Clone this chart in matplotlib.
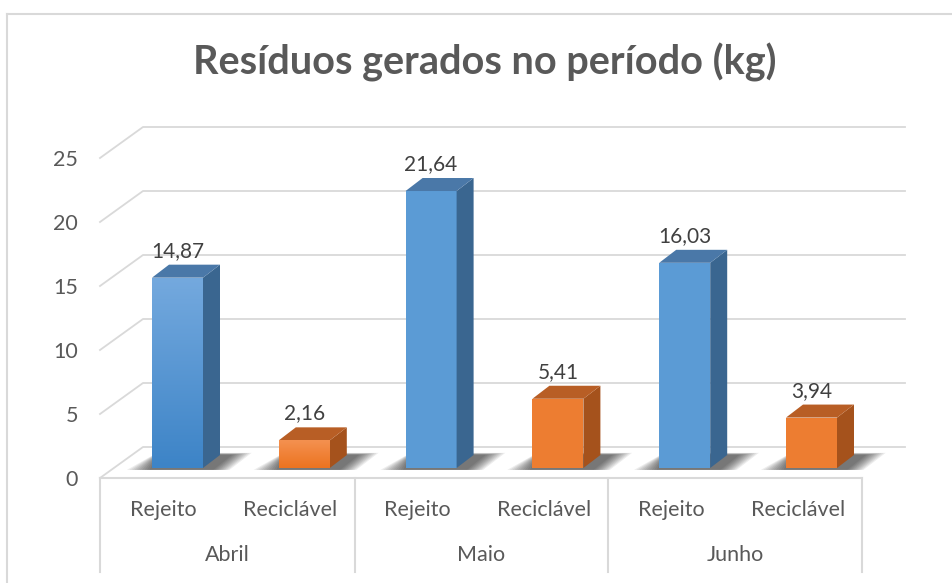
import matplotlib

matplotlib.use("Agg")
import matplotlib.pyplot as plt
import numpy as np
from matplotlib.patches import Polygon

months = ["Abril", "Maio", "Junho"]
kinds = ["Rejeito", "Reciclável"]
values = [14.87, 2.16, 21.64, 5.41, 16.03, 3.94]
y_ticks = [0, 5, 10, 15, 20, 25]
title = "Resíduos gerados no período (kg)"

FRONT = {"Rejeito": "#5b9bd5", "Reciclável": "#ed7d31"}
SIDE = {"Rejeito": "#3a6690", "Reciclável": "#a5521c"}
TOP = {"Rejeito": "#4a78a8", "Reciclável": "#b85e25"}
GRAD = {"Rejeito": ("#74a9de", "#3d84c7"), "Reciclável": ("#f49150", "#ec7320")}
GRID = "#d9d9d9"
TEXT = "#595959"

# page layout, in pixels of the 952x583 picture
W, H = 952, 583
X0, STEP = 177.5, 126.8     # first bar front centre, distance between bars
BASE, UNIT = 468.0, 12.8    # bar base line, pixels per kg

plt.rcParams["font.family"] = ["Lato", "DejaVu Sans"]

fig = plt.figure(figsize=(W / 100, H / 100), dpi=100)
ax = fig.add_axes([0, 0, 1, 1])
ax.set_xlim(-X0 / STEP, (W - X0) / STEP)
ax.set_ylim((BASE - H) / UNIT, BASE / UNIT)
ax.axis("off")


def px(x):
    return (x - X0) / STEP


def py(y):
    return (BASE - y) / UNIT


# outer frame (top and left edges only are inside the picture)
ax.plot([px(7), px(W)], [py(14), py(14)], color=GRID, lw=1.5)
ax.plot([px(7), px(7)], [py(14), py(H)], color=GRID, lw=1.5)

ax.text(px(485), py(62), title, ha="center", va="center", fontsize=28.5,
        fontweight="bold", color=TEXT)

# walls: side-wall diagonals and back-wall gridlines
for g in y_ticks:
    ax.plot([px(100), px(143), px(905)], [py(478) + g, py(447) + g, py(447) + g],
            color=GRID, lw=1.3, zorder=1)
    ax.text(px(78), py(480) + g, str(g), ha="right", va="center",
            fontsize=15.5, color=TEXT)

# category box under the floor
ax.plot([px(100), px(862)], [py(478), py(478)], color=GRID, lw=1.5, zorder=1)
for xb in [100, 355, 608, 862]:
    ax.plot([px(xb), px(xb)], [py(478), py(572)], color=GRID, lw=1.5, zorder=1)

bw = 51 / STEP
dx, dy = 17 / STEP, 13 / UNIT
xs = np.arange(len(values))

for i, (x, v) in enumerate(zip(xs, values)):
    kind = kinds[i % 2]
    # soft shadow on the floor, stacked translucent layers
    for k in range(10):
        grow = (10 - k) * 1.8 / STEP
        shadow = Polygon(
            [(x - bw / 2 - grow * 1.4, -0.15), (x + bw / 2 + dx * 0.5 + grow, -0.15),
             (x + bw / 2 + dx * 1.6 + grow * 1.2, dy + grow * 1.2),
             (x - bw / 2 + dx * 0.3, dy + grow * 1.2)],
            closed=True, color="black", alpha=0.07, lw=0, zorder=2)
        ax.add_patch(shadow)
    bar = ax.bar(x, v, width=bw, color=FRONT[kind], zorder=4, lw=0)[0]
    if i < 2:
        top_c, bot_c = GRAD[kind]
        grad = np.linspace(0, 1, 64)[:, None]
        cmap = matplotlib.colors.LinearSegmentedColormap.from_list("g", [bot_c, top_c])
        im = ax.imshow(grad, cmap=cmap, aspect="auto", origin="lower",
                       extent=[x - bw / 2, x + bw / 2, 0, v], zorder=4.5)
        im.set_clip_path(bar)
    right = x + bw / 2
    ax.add_patch(Polygon([(right, 0), (right + dx, dy), (right + dx, v + dy), (right, v)],
                         closed=True, color=SIDE[kind], lw=0, zorder=4))
    ax.add_patch(Polygon([(x - bw / 2, v), (right, v), (right + dx, v + dy),
                          (x - bw / 2 + dx, v + dy)],
                         closed=True, color=TOP[kind], lw=0, zorder=4))
    ax.text(x, v + dy + 0.3, f"{v:.2f}".replace(".", ","), ha="center",
            va="bottom", fontsize=15, color="#404040", zorder=5)

# category labels
for m, month in enumerate(months):
    left = 100 + m * 254
    for j, kind in enumerate(kinds):
        ax.text(px(left + 63.5 + j * 127), py(510), kind, ha="center", va="center",
                fontsize=15.5, color=TEXT)
    ax.text(px(left + 127), py(555), month, ha="center", va="center",
            fontsize=15.5, color=TEXT)

fig.savefig("out.png", dpi=100)
